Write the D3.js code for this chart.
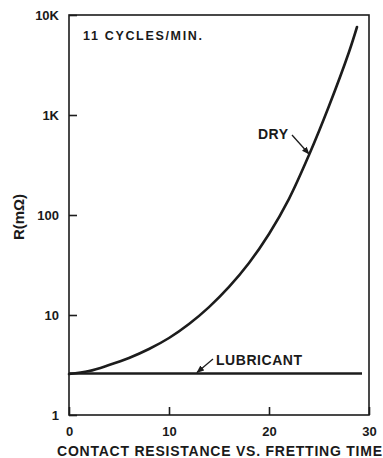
<!DOCTYPE html>
<html>
<head>
<meta charset="utf-8">
<script src="https://cdn.jsdelivr.net/npm/d3@7"></script>
<style>
  html, body { margin: 0; padding: 0; background: #fff; }
  svg { display: block; }
  text { font-family: "Liberation Sans", Arial, sans-serif; fill: #1a1a1a; }
</style>
</head>
<body>
<svg id="chart" width="383" height="458"></svg>
<script>
// Fretting time (x) and contact resistance in milliohms (y)
const dryTime = [0, 2, 4, 6, 8, 10, 12, 14, 16, 18, 20, 22, 24, 26, 28, 28.8];
const dryR    = [2.57, 2.75, 3.16, 3.72, 4.57, 5.89, 8.13, 12.0, 19.1, 33.1, 64.6, 145, 398, 1230, 4266, 7586];

const lubTime = [0, 5, 10, 15, 20, 25, 29.3];
const lubR    = [2.6, 2.6, 2.6, 2.6, 2.6, 2.6, 2.6];

const xTicks = [0, 10, 20, 30];
const xTickLabels = ["0", "10", "20", "30"];
const yTicks = [1, 10, 100, 1000, 10000];
const yTickLabels = ["1", "10", "100", "1K", "10K"];

const svg = d3.select("#chart");
const ink = "#1c1c1c";

const x = d3.scaleLinear().domain([0, 30]).range([69, 369]);
const y = d3.scaleLog().domain([1, 10000]).range([415, 15]);

// plot frame
svg.append("rect")
  .attr("x", x(0)).attr("y", y(10000))
  .attr("width", x(30) - x(0)).attr("height", y(1) - y(10000))
  .attr("fill", "none").attr("stroke", ink).attr("stroke-width", 1.6);

// left axis: inward ticks
const yAxis = d3.axisLeft(y)
  .tickValues(yTicks)
  .tickFormat((d, i) => yTickLabels[i])
  .tickSizeInner(-8).tickSizeOuter(0).tickPadding(10);
const gy = svg.append("g").attr("transform", `translate(${x(0)},0)`).call(yAxis);
gy.select(".domain").remove();
gy.selectAll(".tick line").attr("stroke", ink).attr("stroke-width", 1.6);
gy.selectAll(".tick text")
  .attr("font-size", 13).attr("font-weight", "bold").attr("fill", ink)
  .attr("font-family", "Liberation Sans, Arial, sans-serif");

// bottom axis: inward ticks
const xAxis = d3.axisBottom(x)
  .tickValues(xTicks)
  .tickFormat((d, i) => xTickLabels[i])
  .tickSizeInner(-8).tickSizeOuter(0).tickPadding(12);
const gx = svg.append("g").attr("transform", `translate(0,${y(1)})`).call(xAxis);
gx.select(".domain").remove();
gx.selectAll(".tick line").attr("stroke", ink).attr("stroke-width", 1.6);
gx.selectAll(".tick text")
  .attr("font-size", 13).attr("font-weight", "bold").attr("fill", ink)
  .attr("font-family", "Liberation Sans, Arial, sans-serif");

// curves
const line = d3.line()
  .x(d => x(d[0])).y(d => y(d[1]))
  .curve(d3.curveCatmullRom.alpha(0.5));

svg.append("path")
  .datum(lubTime.map((t, i) => [t, lubR[i]]))
  .attr("d", line)
  .attr("fill", "none").attr("stroke", ink).attr("stroke-width", 2.4);

svg.append("path")
  .datum(dryTime.map((t, i) => [t, dryR[i]]))
  .attr("d", line)
  .attr("fill", "none").attr("stroke", ink).attr("stroke-width", 2.6)
  .attr("stroke-linecap", "round");

// arrow marker for callouts
svg.append("defs").append("marker")
  .attr("id", "arrow").attr("viewBox", "0 0 10 10")
  .attr("refX", 9).attr("refY", 5)
  .attr("markerWidth", 6).attr("markerHeight", 6)
  .attr("orient", "auto")
  .append("path").attr("d", "M0,1 L10,5 L0,9 Z").attr("fill", ink);

// DRY callout
svg.append("text").attr("x", 258).attr("y", 139)
  .attr("font-size", 14).attr("font-weight", "bold")
  .attr("textLength", 30).text("DRY");
svg.append("line")
  .attr("x1", 292).attr("y1", 135)
  .attr("x2", x(24)).attr("y2", y(398) - 1)
  .attr("stroke", ink).attr("stroke-width", 1.3)
  .attr("marker-end", "url(#arrow)");

// LUBRICANT callout
svg.append("text").attr("x", 216).attr("y", 365)
  .attr("font-size", 14).attr("font-weight", "bold")
  .attr("textLength", 86).text("LUBRICANT");
svg.append("line")
  .attr("x1", 213).attr("y1", 359)
  .attr("x2", x(12.8)).attr("y2", y(2.6) - 1)
  .attr("stroke", ink).attr("stroke-width", 1.3)
  .attr("marker-end", "url(#arrow)");

// condition note
svg.append("text").attr("x", 83).attr("y", 40)
  .attr("font-size", 12.5).attr("font-weight", "bold")
  .attr("textLength", 119).text("11 CYCLES/MIN.");

// axis titles
svg.append("text")
  .attr("transform", "translate(24,217) rotate(-90)")
  .attr("text-anchor", "middle")
  .attr("font-size", 15).attr("font-weight", "bold")
  .text("R(mΩ)");

svg.append("text").attr("x", 57).attr("y", 456)
  .attr("font-size", 14).attr("font-weight", "bold")
  .attr("textLength", 325).attr("lengthAdjust", "spacing")
  .text("CONTACT RESISTANCE VS. FRETTING TIME");
</script>
</body>
</html>
